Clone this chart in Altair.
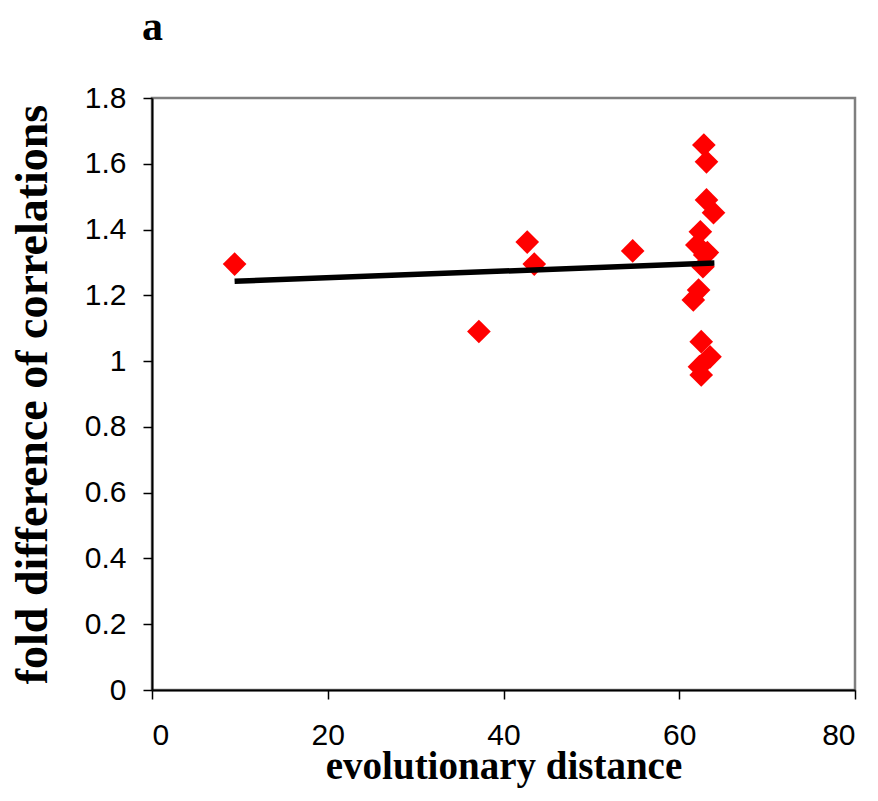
import altair as alt
import pandas as pd

# scatter data
dist = [9.4, 37.2, 42.7, 43.5, 54.7,
        62.8, 63.1, 63.1, 63.9, 62.4, 62.0, 62.9, 62.7, 62.2, 61.6,
        62.5, 63.5, 62.3, 62.5, 63.2]
fold = [1.295, 1.09, 1.362, 1.295, 1.335,
        1.657, 1.606, 1.49, 1.451, 1.393, 1.353, 1.323, 1.287, 1.216, 1.186,
        1.059, 1.013, 0.983, 0.958, 1.33]

# fitted trend line end points
fit_x = [9.4, 64.0]
fit_y = [1.243, 1.298]

x_ticks = [0, 20, 40, 60, 80]
y_ticks = [0, 0.2, 0.4, 0.6, 0.8, 1.0, 1.2, 1.4, 1.6, 1.8]

pts = pd.DataFrame({"x": dist, "y": fold})
fit = pd.DataFrame({"x": fit_x, "y": fit_y})

xscale = alt.Scale(domain=[0, 80], nice=False, zero=False)
yscale = alt.Scale(domain=[0, 1.8], nice=False, zero=False)

xaxis = alt.Axis(values=x_ticks, title="evolutionary distance", grid=False,
                 labelFont="Liberation Sans", labelFontSize=30, labelColor="black",
                 labelPadding=21, tickSize=9, tickColor="black", tickWidth=1.5,
                 domainColor="black", domainWidth=2,
                 titleFont="Liberation Serif", titleFontSize=39, titleFontWeight="bold",
                 titleColor="black", titlePadding=-3)
yaxis = alt.Axis(values=y_ticks, title="fold difference of correlations", grid=False,
                 labelExpr="datum.value == 1 ? '1' : datum.value == 0 ? '0' : format(datum.value, '.1f')",
                 labelFont="Liberation Sans", labelFontSize=30, labelColor="black",
                 labelPadding=17, tickSize=9, tickColor="black", tickWidth=1.5,
                 domainColor="black", domainWidth=2,
                 titleFont="Liberation Serif", titleFontSize=46, titleFontWeight="bold",
                 titleColor="black", titlePadding=28)

points = alt.Chart(pts).mark_point(shape="diamond", filled=True, color="#ff0000",
                                   size=560, opacity=1).encode(
    x=alt.X("x:Q", scale=xscale, axis=xaxis),
    y=alt.Y("y:Q", scale=yscale, axis=yaxis),
)

line = alt.Chart(fit).mark_line(color="black", strokeWidth=5.5).encode(
    x=alt.X("x:Q", scale=xscale),
    y=alt.Y("y:Q", scale=yscale),
)

chart = alt.layer(points, line).properties(
    width=703, height=592,
    background="white",
    autosize=alt.AutoSizeParams(type="none"),
    padding={"left": 144, "top": 90, "right": 15, "bottom": 103},
    title=alt.TitleParams("a", anchor="start", frame="group", font="Liberation Serif",
                          fontSize=42, fontWeight="bold", color="black",
                          offset=34, dx=-10),
).configure_view(stroke="#7f7f7f", strokeWidth=2.5)

chart.save("out.html", embed_options={"renderer": "svg", "actions": False})
